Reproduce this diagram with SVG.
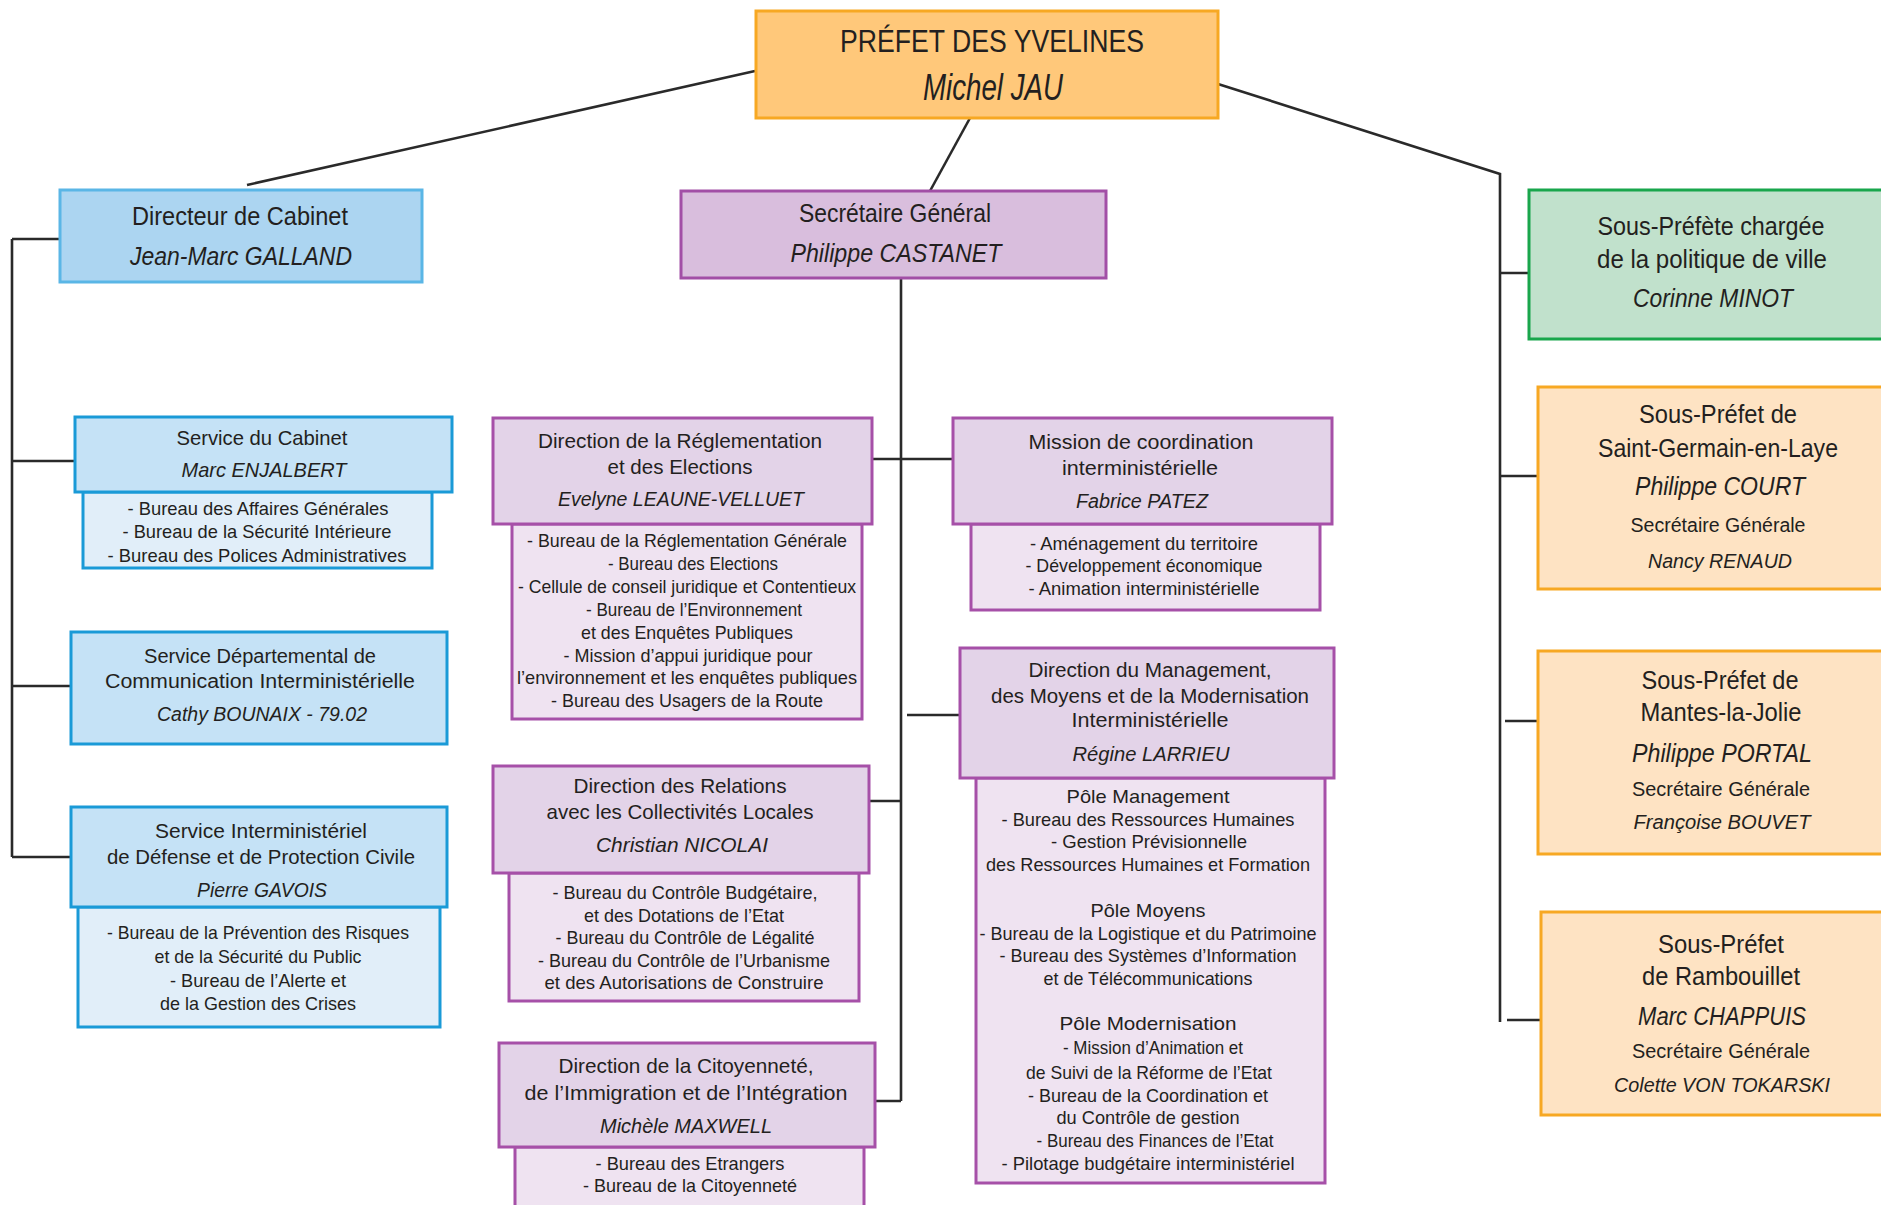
<svg xmlns="http://www.w3.org/2000/svg" width="1881" height="1205" viewBox="0 0 1881 1205">
<style>
text{font-family:"Liberation Sans",Arial,sans-serif;fill:#231f20;text-anchor:middle}
.i{font-style:italic}
.f32{font-size:32px}.f36{font-size:36px}.f25{font-size:25px}.f26{font-size:26px}.f21{font-size:21px}.f20{font-size:20px}.f19{font-size:19px}
.cn{fill:none;stroke:#2a2a2a;stroke-width:2.6}
.or{fill:#ffc87a;stroke:#f7a823;stroke-width:3}
.dir{fill:#acd5f1;stroke:#5ab6e6;stroke-width:3}
.bl{fill:#c5e2f6;stroke:#1a9ad7;stroke-width:3}
.bls{fill:#e1eef9;stroke:#1a9ad7;stroke-width:3}
.sg{fill:#d9bedd;stroke:#a24fa6;stroke-width:3}
.pu{fill:#e3d3e8;stroke:#a650a8;stroke-width:3}
.pus{fill:#efe3f1;stroke:#a650a8;stroke-width:3}
.gr{fill:#c1e1cc;stroke:#19a64c;stroke-width:3}
.lo{fill:#fee3c3;stroke:#f7a823;stroke-width:3}
</style>
<rect width="1881" height="1205" fill="#ffffff"/>
<g id="connectors">
<path class="cn" d="M755,71 L247,185"/>
<path class="cn" d="M970,118 L930,191"/>
<path class="cn" d="M1218,84 L1500,174 L1500,1022"/>
<path class="cn" d="M12,239 L12,857 M12,239 L60,239 M12,461 L75,461 M12,686 L71,686 M12,857 L71,857"/>
<path class="cn" d="M901,278 L901,1101 M872,459 L953,459 M907,715 L960,715 M869,801 L901,801 M875,1101 L901,1101"/>
<path class="cn" d="M1500,273 L1529,273 M1500,476 L1538,476 M1505,721 L1538,721 M1507,1020 L1541,1020"/>
</g>
<g id="prefet">
<rect class="or" x="756" y="11" width="462" height="107"/>
<text class="f32" x="992" y="52" textLength="304" lengthAdjust="spacingAndGlyphs">PRÉFET DES YVELINES</text>
<text class="f36 i" x="993" y="100" textLength="140" lengthAdjust="spacingAndGlyphs">Michel JAU</text>
</g>
<g id="directeur-cabinet">
<rect class="dir" x="60" y="190" width="362" height="92"/>
<text class="f25" x="240" y="225" textLength="216" lengthAdjust="spacingAndGlyphs">Directeur de Cabinet</text>
<text class="f26 i" x="241" y="265" textLength="222" lengthAdjust="spacingAndGlyphs">Jean-Marc GALLAND</text>
</g>
<g id="service-cabinet">
<rect class="bls" x="83" y="492" width="349" height="76"/>
<rect class="bl" x="75" y="417" width="377" height="75"/>
<text class="f21" x="262" y="445" textLength="171" lengthAdjust="spacingAndGlyphs">Service du Cabinet</text>
<text class="f21 i" x="264" y="477" textLength="165" lengthAdjust="spacingAndGlyphs">Marc ENJALBERT</text>
<text class="f19" x="258" y="515" textLength="261" lengthAdjust="spacingAndGlyphs">- Bureau des Affaires Générales</text>
<text class="f19" x="257" y="538" textLength="269" lengthAdjust="spacingAndGlyphs">- Bureau de la Sécurité Intérieure</text>
<text class="f19" x="257" y="562" textLength="299" lengthAdjust="spacingAndGlyphs">- Bureau des Polices Administratives</text>
</g>
<g id="sdci">
<rect class="bl" x="71" y="632" width="376" height="112"/>
<text class="f20" x="260" y="663" textLength="232" lengthAdjust="spacingAndGlyphs">Service Départemental de</text>
<text class="f20" x="260" y="688" textLength="310" lengthAdjust="spacingAndGlyphs">Communication Interministérielle</text>
<text class="f20 i" x="262" y="721" textLength="210" lengthAdjust="spacingAndGlyphs">Cathy BOUNAIX - 79.02</text>
</g>
<g id="sidpc">
<rect class="bls" x="78" y="907" width="362" height="120"/>
<rect class="bl" x="71" y="807" width="376" height="100"/>
<text class="f20" x="261" y="838" textLength="212" lengthAdjust="spacingAndGlyphs">Service Interministériel</text>
<text class="f20" x="261" y="864" textLength="308" lengthAdjust="spacingAndGlyphs">de Défense et de Protection Civile</text>
<text class="f20 i" x="262" y="897" textLength="130" lengthAdjust="spacingAndGlyphs">Pierre GAVOIS</text>
<text class="f19" x="258" y="939" textLength="302" lengthAdjust="spacingAndGlyphs">- Bureau de la Prévention des Risques</text>
<text class="f19" x="258" y="963" textLength="207" lengthAdjust="spacingAndGlyphs">et de la Sécurité du Public</text>
<text class="f19" x="258" y="987" textLength="176" lengthAdjust="spacingAndGlyphs">- Bureau de l’Alerte et</text>
<text class="f19" x="258" y="1010" textLength="196" lengthAdjust="spacingAndGlyphs">de la Gestion des Crises</text>
</g>
<g id="secretaire-general">
<rect class="sg" x="681" y="191" width="425" height="87"/>
<text class="f25" x="895" y="222" textLength="192" lengthAdjust="spacingAndGlyphs">Secrétaire Général</text>
<text class="f26 i" x="896" y="262" textLength="211" lengthAdjust="spacingAndGlyphs">Philippe CASTANET</text>
</g>
<g id="reglementation">
<rect class="pus" x="512" y="524" width="350" height="195"/>
<rect class="pu" x="493" y="418" width="379" height="106"/>
<text class="f21" x="680" y="448" textLength="284" lengthAdjust="spacingAndGlyphs">Direction de la Réglementation</text>
<text class="f21" x="680" y="474" textLength="145" lengthAdjust="spacingAndGlyphs">et des Elections</text>
<text class="f21 i" x="681" y="506" textLength="246" lengthAdjust="spacingAndGlyphs">Evelyne LEAUNE-VELLUET</text>
<text class="f19" x="687" y="547" textLength="320" lengthAdjust="spacingAndGlyphs">- Bureau de la Réglementation Générale</text>
<text class="f19" x="693" y="570" textLength="170" lengthAdjust="spacingAndGlyphs">- Bureau des Elections</text>
<text class="f19" x="687" y="593" textLength="338" lengthAdjust="spacingAndGlyphs">- Cellule de conseil juridique et Contentieux</text>
<text class="f19" x="694" y="616" textLength="216" lengthAdjust="spacingAndGlyphs">- Bureau de l’Environnement</text>
<text class="f19" x="687" y="639" textLength="212" lengthAdjust="spacingAndGlyphs">et des Enquêtes Publiques</text>
<text class="f19" x="688" y="662" textLength="249" lengthAdjust="spacingAndGlyphs">- Mission d’appui juridique pour</text>
<text class="f19" x="687" y="684" textLength="340" lengthAdjust="spacingAndGlyphs">l’environnement et les enquêtes publiques</text>
<text class="f19" x="687" y="707" textLength="272" lengthAdjust="spacingAndGlyphs">- Bureau des Usagers de la Route</text>
</g>
<g id="relations-collectivites">
<rect class="pus" x="509" y="873" width="350" height="128"/>
<rect class="pu" x="493" y="766" width="376" height="107"/>
<text class="f21" x="680" y="793" textLength="213" lengthAdjust="spacingAndGlyphs">Direction des Relations</text>
<text class="f21" x="680" y="819" textLength="267" lengthAdjust="spacingAndGlyphs">avec les Collectivités Locales</text>
<text class="f21 i" x="682" y="852" textLength="172" lengthAdjust="spacingAndGlyphs">Christian NICOLAI</text>
<text class="f19" x="685" y="899" textLength="265" lengthAdjust="spacingAndGlyphs">- Bureau du Contrôle Budgétaire,</text>
<text class="f19" x="684" y="922" textLength="200" lengthAdjust="spacingAndGlyphs">et des Dotations de l’Etat</text>
<text class="f19" x="685" y="944" textLength="259" lengthAdjust="spacingAndGlyphs">- Bureau du Contrôle de Légalité</text>
<text class="f19" x="684" y="967" textLength="292" lengthAdjust="spacingAndGlyphs">- Bureau du Contrôle de l’Urbanisme</text>
<text class="f19" x="684" y="989" textLength="279" lengthAdjust="spacingAndGlyphs">et des Autorisations de Construire</text>
</g>
<g id="citoyennete">
<rect class="pus" x="515" y="1147" width="349" height="70"/>
<rect class="pu" x="499" y="1043" width="376" height="104"/>
<text class="f21" x="686" y="1073" textLength="255" lengthAdjust="spacingAndGlyphs">Direction de la Citoyenneté,</text>
<text class="f21" x="686" y="1100" textLength="323" lengthAdjust="spacingAndGlyphs">de l’Immigration et de l’Intégration</text>
<text class="f21 i" x="686" y="1133" textLength="172" lengthAdjust="spacingAndGlyphs">Michèle MAXWELL</text>
<text class="f19" x="690" y="1170" textLength="189" lengthAdjust="spacingAndGlyphs">- Bureau des Etrangers</text>
<text class="f19" x="690" y="1192" textLength="214" lengthAdjust="spacingAndGlyphs">- Bureau de la Citoyenneté</text>
</g>
<g id="mission-coordination">
<rect class="pus" x="971" y="524" width="349" height="86"/>
<rect class="pu" x="953" y="418" width="379" height="106"/>
<text class="f20" x="1141" y="449" textLength="225" lengthAdjust="spacingAndGlyphs">Mission de coordination</text>
<text class="f20" x="1140" y="475" textLength="156" lengthAdjust="spacingAndGlyphs">interministérielle</text>
<text class="f20 i" x="1142" y="508" textLength="132" lengthAdjust="spacingAndGlyphs">Fabrice PATEZ</text>
<text class="f19" x="1144" y="550" textLength="228" lengthAdjust="spacingAndGlyphs">- Aménagement du territoire</text>
<text class="f19" x="1144" y="572" textLength="237" lengthAdjust="spacingAndGlyphs">- Développement économique</text>
<text class="f19" x="1144" y="595" textLength="231" lengthAdjust="spacingAndGlyphs">- Animation interministérielle</text>
</g>
<g id="management">
<rect class="pus" x="976" y="778" width="349" height="405"/>
<rect class="pu" x="960" y="648" width="374" height="130"/>
<text class="f20" x="1150" y="677" textLength="243" lengthAdjust="spacingAndGlyphs">Direction du Management,</text>
<text class="f20" x="1150" y="703" textLength="318" lengthAdjust="spacingAndGlyphs">des Moyens et de la Modernisation</text>
<text class="f20" x="1150" y="727" textLength="157" lengthAdjust="spacingAndGlyphs">Interministérielle</text>
<text class="f20 i" x="1151" y="761" textLength="157" lengthAdjust="spacingAndGlyphs">Régine LARRIEU</text>
<text class="f19" x="1148" y="803" textLength="163" lengthAdjust="spacingAndGlyphs">Pôle Management</text>
<text class="f19" x="1148" y="826" textLength="293" lengthAdjust="spacingAndGlyphs">- Bureau des Ressources Humaines</text>
<text class="f19" x="1149" y="848" textLength="196" lengthAdjust="spacingAndGlyphs">- Gestion Prévisionnelle</text>
<text class="f19" x="1148" y="871" textLength="324" lengthAdjust="spacingAndGlyphs">des Ressources Humaines et Formation</text>
<text class="f19" x="1148" y="917" textLength="115" lengthAdjust="spacingAndGlyphs">Pôle Moyens</text>
<text class="f19" x="1148" y="940" textLength="337" lengthAdjust="spacingAndGlyphs">- Bureau de la Logistique et du Patrimoine</text>
<text class="f19" x="1148" y="962" textLength="297" lengthAdjust="spacingAndGlyphs">- Bureau des Systèmes d’Information</text>
<text class="f19" x="1148" y="985" textLength="209" lengthAdjust="spacingAndGlyphs">et de Télécommunications</text>
<text class="f19" x="1148" y="1030" textLength="177" lengthAdjust="spacingAndGlyphs">Pôle Modernisation</text>
<text class="f19" x="1153" y="1054" textLength="180" lengthAdjust="spacingAndGlyphs">- Mission d’Animation et</text>
<text class="f19" x="1149" y="1079" textLength="246" lengthAdjust="spacingAndGlyphs">de Suivi de la Réforme de l’Etat</text>
<text class="f19" x="1148" y="1102" textLength="240" lengthAdjust="spacingAndGlyphs">- Bureau de la Coordination et</text>
<text class="f19" x="1148" y="1124" textLength="183" lengthAdjust="spacingAndGlyphs">du Contrôle de gestion</text>
<text class="f19" x="1155" y="1147" textLength="237" lengthAdjust="spacingAndGlyphs">- Bureau des Finances de l’Etat</text>
<text class="f19" x="1148" y="1170" textLength="293" lengthAdjust="spacingAndGlyphs">- Pilotage budgétaire interministériel</text>
</g>
<g id="sous-prefete-ville">
<rect class="gr" x="1529" y="190" width="362" height="149"/>
<text class="f25" x="1711" y="235" textLength="227" lengthAdjust="spacingAndGlyphs">Sous-Préfète chargée</text>
<text class="f25" x="1712" y="268" textLength="230" lengthAdjust="spacingAndGlyphs">de la politique de ville</text>
<text class="f25 i" x="1713" y="307" textLength="160" lengthAdjust="spacingAndGlyphs">Corinne MINOT</text>
</g>
<g id="sous-prefet-saint-germain">
<rect class="lo" x="1538" y="387" width="353" height="202"/>
<text class="f25" x="1718" y="423" textLength="158" lengthAdjust="spacingAndGlyphs">Sous-Préfet de</text>
<text class="f25" x="1718" y="457" textLength="240" lengthAdjust="spacingAndGlyphs">Saint-Germain-en-Laye</text>
<text class="f26 i" x="1720" y="495" textLength="170" lengthAdjust="spacingAndGlyphs">Philippe COURT</text>
<text class="f20" x="1718" y="532" textLength="175" lengthAdjust="spacingAndGlyphs">Secrétaire Générale</text>
<text class="f20 i" x="1720" y="568" textLength="144" lengthAdjust="spacingAndGlyphs">Nancy RENAUD</text>
</g>
<g id="sous-prefet-mantes">
<rect class="lo" x="1538" y="651" width="353" height="203"/>
<text class="f25" x="1720" y="689" textLength="157" lengthAdjust="spacingAndGlyphs">Sous-Préfet de</text>
<text class="f25" x="1721" y="721" textLength="161" lengthAdjust="spacingAndGlyphs">Mantes-la-Jolie</text>
<text class="f26 i" x="1722" y="762" textLength="180" lengthAdjust="spacingAndGlyphs">Philippe PORTAL</text>
<text class="f20" x="1721" y="796" textLength="178" lengthAdjust="spacingAndGlyphs">Secrétaire Générale</text>
<text class="f20 i" x="1722" y="829" textLength="177" lengthAdjust="spacingAndGlyphs">Françoise BOUVET</text>
</g>
<g id="sous-prefet-rambouillet">
<rect class="lo" x="1541" y="912" width="350" height="203"/>
<text class="f25" x="1721" y="953" textLength="126" lengthAdjust="spacingAndGlyphs">Sous-Préfet</text>
<text class="f25" x="1721" y="985" textLength="158" lengthAdjust="spacingAndGlyphs">de Rambouillet</text>
<text class="f26 i" x="1722" y="1025" textLength="168" lengthAdjust="spacingAndGlyphs">Marc CHAPPUIS</text>
<text class="f20" x="1721" y="1058" textLength="178" lengthAdjust="spacingAndGlyphs">Secrétaire Générale</text>
<text class="f20 i" x="1722" y="1092" textLength="216" lengthAdjust="spacingAndGlyphs">Colette VON TOKARSKI</text>
</g>
</svg>
